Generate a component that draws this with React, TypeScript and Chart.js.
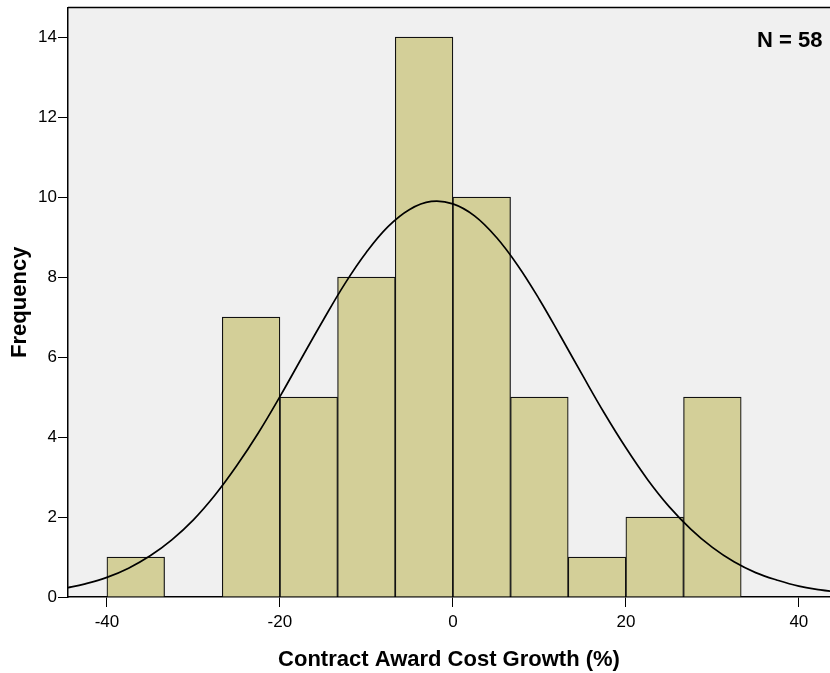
import React, { useEffect, useRef } from "react";
import { Chart, registerables } from "chart.js";

Chart.register(...registerables);

// Histogram bins (edges, %) and frequencies
const binEdges = [-40, -33.333, -26.667, -20, -13.333, -6.667, 0, 6.667, 13.333, 20, 26.667, 33.333];
const binCounts: (number | null)[] = [1, null, 7, 5, 8, 14, 10, 5, 1, 2, 5];

// Normal curve points
const curveX = [-45, -42.5, -40, -37.5, -35, -32.5, -30, -27.5, -25, -22.5, -20, -17.5, -15, -12.5, -10, -7.5, -5, -2.5, 0, 2.5, 5, 7.5, 10, 12.5, 15, 17.5, 20, 22.5, 25, 27.5, 30, 32.5, 35, 37.5, 40, 42.5, 45];
const curveY = [0.21, 0.33, 0.49, 0.72, 1.03, 1.43, 1.93, 2.55, 3.28, 4.1, 5.01, 5.97, 6.92, 7.83, 8.62, 9.26, 9.69, 9.89, 9.83, 9.53, 9.0, 8.29, 7.44, 6.5, 5.54, 4.6, 3.73, 2.94, 2.26, 1.7, 1.24, 0.88, 0.61, 0.42, 0.27, 0.18, 0.11];

const xMin = -44.5;
const xMax = 43.6;
const yMax = 14.74;
const nLabel = "N = 58";
const xTitle = "Contract Award Cost Growth (%)";
const yTitle = "Frequency";

const FONT = '"Liberation Sans", Arial, Helvetica, sans-serif';

export default function App() {
  const ref = useRef<HTMLCanvasElement | null>(null);

  useEffect(() => {
    if (!ref.current) return;
    const barData = binCounts.map((c, i) => ({ x: (binEdges[i] + binEdges[i + 1]) / 2, y: c }));
    const lineData = curveX.map((x, i) => ({ x, y: curveY[i] }));

    const framePlugin = {
      id: "frame",
      beforeDraw(chart: any) {
        const { ctx, chartArea } = chart;
        ctx.save();
        ctx.fillStyle = "#f0f0f0";
        ctx.fillRect(chartArea.left, chartArea.top, chartArea.right - chartArea.left, chartArea.bottom - chartArea.top);
        ctx.restore();
      },
      afterDraw(chart: any) {
        const { ctx, chartArea } = chart;
        ctx.save();
        ctx.strokeStyle = "#000";
        ctx.lineWidth = 1.5;
        ctx.beginPath();
        ctx.moveTo(chartArea.left, chartArea.top);
        ctx.lineTo(chartArea.right, chartArea.top);
        ctx.stroke();
        ctx.fillStyle = "#000";
        ctx.font = "bold 22px " + FONT;
        ctx.textAlign = "right";
        ctx.textBaseline = "alphabetic";
        ctx.fillText(nLabel, 822.5, 46.5);
        ctx.restore();
      },
    };

    const chart = new Chart(ref.current, {
      type: "bar",
      data: {
        datasets: [
          {
            type: "line",
            data: lineData,
            borderColor: "#000",
            borderWidth: 1.7,
            pointRadius: 0,
            tension: 0.4,
            fill: false,
            order: 0,
          } as any,
          {
            type: "bar",
            data: barData,
            backgroundColor: "#d3cf98",
            borderColor: "#111",
            borderWidth: 1.2,
            barPercentage: 1,
            categoryPercentage: 1,
            order: 1,
          } as any,
        ],
      },
      options: {
        animation: false,
        responsive: true,
        maintainAspectRatio: false,
        layout: { padding: { top: 7.5, right: 0, left: 0, bottom: 0 } },
        plugins: { legend: { display: false }, tooltip: { enabled: false } },
        scales: {
          x: {
            type: "linear",
            min: xMin,
            max: xMax,
            offset: false,
            grid: { offset: false, drawOnChartArea: false, drawTicks: true, tickLength: 10, color: "#000", lineWidth: 1 },
            border: { display: true, color: "#000", width: 1.5 },
            ticks: { stepSize: 20, includeBounds: false, color: "#000", font: { family: FONT, size: 17 }, padding: 5, maxRotation: 0 },
            title: { display: true, text: xTitle, color: "#000", font: { family: FONT, size: 22, weight: "bold" }, padding: { top: 0, bottom: 0 } },
            afterFit: (s: any) => { s.height = 76; s.paddingLeft = 0; s.paddingRight = 0; },
          } as any,
          y: {
            type: "linear",
            min: 0,
            max: yMax,
            grid: { drawOnChartArea: false, drawTicks: true, tickLength: 10, color: "#000", lineWidth: 1 },
            border: { display: true, color: "#000", width: 1.5 },
            ticks: { stepSize: 2, includeBounds: false, color: "#000", font: { family: FONT, size: 17 }, padding: 1 },
            title: { display: true, text: yTitle, color: "#000", font: { family: FONT, size: 22, weight: "bold" }, padding: { top: 7, bottom: 0 } },
            afterFit: (s: any) => { s.width = 68; s.paddingTop = 0; s.paddingBottom = 0; },
          } as any,
        },
      },
      plugins: [framePlugin],
    });
    return () => chart.destroy();
  }, []);

  return (
    <div style={{ position: "absolute", left: 0, top: 0, width: 830, height: 673, background: "#fff" }}>
      <canvas ref={ref} />
    </div>
  );
}
